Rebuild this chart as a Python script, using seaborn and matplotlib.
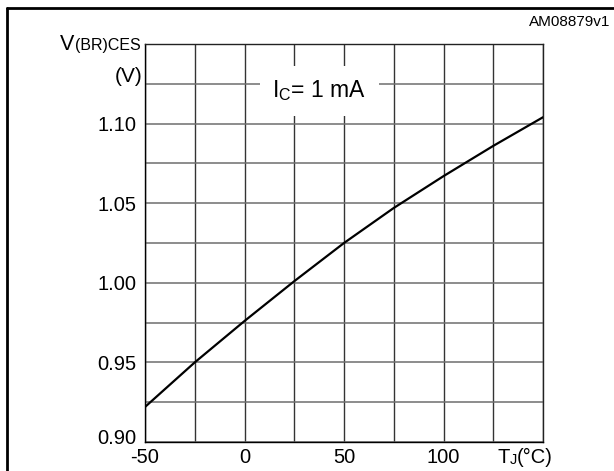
import numpy as np
import pandas as pd
import matplotlib
matplotlib.use("Agg")
import matplotlib.pyplot as plt
import matplotlib.transforms as mtransforms
from matplotlib.lines import Line2D
import seaborn as sns

# ---- data ----
temperature_c = [-50, -25, 0, 25, 50, 75, 100, 125, 150]
v_br_ces = [0.922, 0.950, 0.976, 1.001, 1.025, 1.047, 1.067, 1.086, 1.104]

x_grid = [-50, -25, 0, 25, 50, 75, 100, 125, 150]
x_labels = ["-50", "", "0", "", "50", "", "100", "", ""]
y_grid = [0.90, 0.925, 0.95, 0.975, 1.00, 1.025, 1.05, 1.075, 1.10, 1.125, 1.15]
y_labels = ["0.90", "", "0.95", "", "1.00", "", "1.05", "", "1.10", "", ""]

df = pd.DataFrame({"T": temperature_c, "V": v_br_ces})

sns.set_style("white")
plt.rcParams["font.family"] = ["Liberation Sans", "DejaVu Sans"]
plt.rcParams["mathtext.fontset"] = "custom"
plt.rcParams["mathtext.rm"] = "Liberation Sans"

W, H = 614, 471
fig = plt.figure(figsize=(W / 100, H / 100), dpi=100)
ax = fig.add_axes([145 / W, 1 - 442 / H, (543 - 145) / W, (442 - 44) / H])

sns.lineplot(data=df, x="T", y="V", ax=ax, color="black", linewidth=1.6, zorder=4)
ax.lines[0].set_solid_joinstyle("round")

ax.set_xlim(-50, 150)
ax.set_ylim(0.90, 1.15)
ax.set_xticks(x_grid)
ax.set_xticklabels(x_labels)
ax.set_yticks(y_grid)
ax.set_yticklabels(y_labels)
ax.tick_params(axis="both", length=0, labelsize=14.5, colors="black")
ax.tick_params(axis="y", pad=6)
ax.tick_params(axis="x", pad=4)
ax.set_xlabel("")
ax.set_ylabel("")

# lift the 0.90 label a little, as in the reference
lab0 = ax.get_yticklabels()[0]
lab0.set_transform(lab0.get_transform() +
                   mtransforms.ScaledTranslation(0, 6 / 100, fig.dpi_scale_trans))

ax.set_axisbelow(True)
ax.xaxis.grid(True, color="#333333", linewidth=1.0)
ax.yaxis.grid(True, color="#6e6e6e", linewidth=1.1)
for side in ["left", "bottom", "top", "right"]:
    ax.spines[side].set_visible(True)
    ax.spines[side].set_color("#222222")
    ax.spines[side].set_linewidth(1.0)
ax.spines["left"].set_color("black")
ax.spines["bottom"].set_color("black")

# annotation box
ax.text(37.5, 1.1205, r"I$_\mathregular{C}$= 1 mA", ha="center", va="center",
        fontsize=16.5, color="black", zorder=5,
        bbox=dict(facecolor="white", edgecolor="none", boxstyle="square,pad=0.55"))

renderer = fig.canvas.get_renderer()

# y axis title: V(BR)CES / (V)
base_y = 1 - 50 / H
t_sub = fig.text(141 / W, base_y, "(BR)CES", ha="right", va="baseline",
                 fontsize=11.5, color="black")
bb = t_sub.get_window_extent(renderer)
fig.text((bb.x0 - 0.5) / W, base_y, "V", ha="right", va="baseline", fontsize=15.5,
         color="black")
fig.text(142 / W, 1 - 76 / H, "(V)", ha="right", va="center", fontsize=15, color="black")

# x axis title: TJ(°C)
base_x = 1 - 463 / H
t_c = fig.text(553 / W, base_x, "(°C)", ha="right", va="baseline", fontsize=14.5,
               color="black")
bb = t_c.get_window_extent(renderer)
t_j = fig.text((bb.x0 - 0.3) / W, base_x - 1 / H, "J", ha="right", va="baseline",
               fontsize=10.5, color="black")
bb = t_j.get_window_extent(renderer)
fig.text((bb.x0 + 0.3) / W, base_x, "T", ha="right", va="baseline", fontsize=14.5,
         color="black")

fig.text(610 / W, 1 - 22 / H, "AM08879v1", ha="right", va="center", fontsize=11,
         color="black")

# outer frame (cut at right and bottom edges)
fx = 7 / W
fy = 1 - 8 / H
fig.add_artist(Line2D([fx, fx], [0, fy], transform=fig.transFigure, color="black", linewidth=2))
fig.add_artist(Line2D([fx, 1], [fy, fy], transform=fig.transFigure, color="black", linewidth=2))

fig.savefig("out.png", dpi=100)
